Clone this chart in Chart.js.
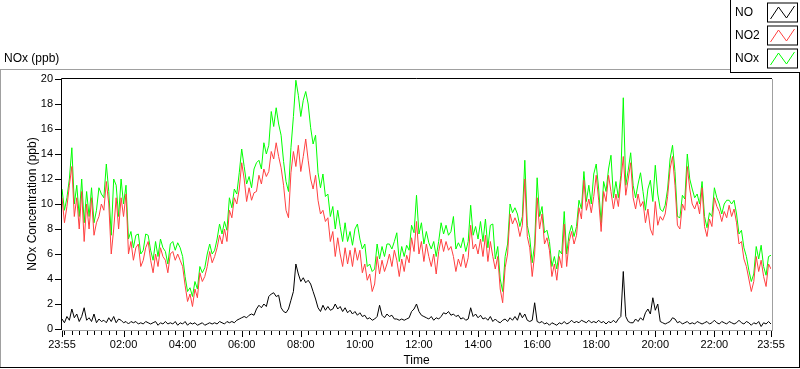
<!DOCTYPE html>
<html>
<head>
<meta charset="utf-8">
<script src="https://cdn.jsdelivr.net/npm/chart.js@4.4.0/dist/chart.umd.min.js"></script>
<style>
html,body{margin:0;padding:0;background:#fff;}
#wrap{position:relative;width:800px;height:369px;}
canvas{display:block;}
</style>
</head>
<body>
<div id="wrap"><canvas id="c" width="800" height="369"></canvas></div>
<script>
// sample spacing: 5 minutes, starting at 23:55 (minute 0) through 23:55 next day (minute 1440)
const sampleStepMin = 5;

const noValues = [
0.8,0.5,1.0,0.7,1.6,0.9,1.2,0.6,1.0,1.7,0.7,0.9,
0.6,1.2,0.5,0.8,0.6,0.7,0.5,0.9,0.6,1.0,0.5,0.8,
0.7,0.5,0.6,0.4,0.6,0.5,0.6,0.4,0.5,0.4,0.6,0.5,
0.4,0.5,0.6,0.3,0.5,0.4,0.6,0.4,0.5,0.4,0.6,0.3,
0.5,0.4,0.6,0.3,0.5,0.4,0.5,0.3,0.4,0.5,0.3,0.4,
0.5,0.4,0.5,0.4,0.6,0.5,0.4,0.6,0.5,0.6,0.5,0.7,
0.8,0.9,1.0,0.9,1.1,1.2,1.1,1.6,1.9,1.7,2.0,1.8,
2.6,2.8,2.9,2.6,2.7,1.7,1.4,1.3,1.6,2.3,3.0,5.2,
4.4,3.8,4.1,3.7,3.9,3.6,3.0,2.4,1.7,1.4,1.9,1.5,
1.8,1.5,1.6,2.0,1.6,1.8,1.4,1.7,1.3,1.5,1.2,1.4,
1.1,1.3,1.0,1.1,0.8,0.9,0.7,0.8,1.0,1.9,1.1,0.9,
1.2,1.0,1.1,0.8,0.8,0.7,0.8,0.7,0.8,0.9,1.4,1.6,
2.0,1.4,1.1,1.0,0.9,0.8,1.0,0.7,0.9,0.8,1.0,1.3,
1.2,1.4,1.1,1.2,1.0,1.1,0.8,0.9,0.7,0.8,1.7,1.0,
1.2,0.9,1.1,0.8,0.9,0.7,1.0,0.6,0.8,0.6,0.5,0.7,
0.8,0.6,0.9,0.7,1.0,0.7,1.3,0.9,1.2,0.7,0.6,0.7,
2.1,0.6,0.5,0.6,0.4,0.5,0.3,0.5,0.4,0.3,0.5,0.4,
0.6,0.4,0.5,0.7,0.5,0.6,0.5,0.7,0.6,0.5,0.7,0.5,
0.6,0.5,0.7,0.5,0.6,0.4,0.6,0.5,0.7,0.5,0.8,1.0,
4.6,1.0,0.6,0.5,0.5,0.8,0.6,0.9,0.7,1.3,1.6,1.2,
2.5,1.5,2.0,0.6,0.5,0.4,0.5,0.6,0.9,0.8,0.5,0.6,
0.4,0.5,0.6,0.4,0.5,0.4,0.6,0.5,0.4,0.5,0.6,0.4,
0.5,0.7,0.5,0.4,0.6,0.5,0.4,0.6,0.5,0.4,0.5,0.7,
0.5,0.4,0.6,0.5,0.3,0.5,0.4,0.6,0.2,0.5,0.4,0.6,
0.4
];

const no2Values = [
10.5,8.5,9.8,11.5,13.0,9.0,10.5,8.0,11.0,7.0,10.0,8.0,
10.5,7.5,8.5,9.0,10.0,9.5,11.8,10.0,6.0,8.0,10.5,8.0,
10.5,9.0,10.8,6.0,7.0,5.5,6.5,6.8,5.0,5.5,6.5,7.0,
5.5,4.5,6.0,5.0,6.5,5.8,5.5,4.5,6.0,6.2,5.5,6.0,
5.5,5.0,3.5,2.2,2.8,1.8,3.2,2.5,4.5,3.8,4.2,5.0,
6.2,5.3,5.8,6.5,7.5,6.8,8.0,7.0,9.5,8.9,10.5,10.0,
11.2,13.3,12.0,10.2,11.3,10.3,10.9,11.0,12.3,11.6,12.8,12.2,
12.6,14.2,13.6,14.9,13.8,12.9,11.5,9.5,8.9,12.5,14.2,13.0,
14.7,12.6,13.8,15.2,13.5,12.0,11.2,12.3,10.3,9.2,9.5,8.6,
8.9,7.0,7.8,5.8,7.3,6.0,5.0,6.5,5.2,6.3,5.0,6.5,
5.5,6.3,4.5,5.2,3.9,4.4,3.0,3.6,5.8,4.4,5.5,4.6,
5.2,6.0,5.0,6.3,5.5,4.2,5.6,4.6,5.9,5.3,7.3,6.2,
8.6,6.0,7.0,5.4,6.8,5.8,5.0,6.0,4.4,6.2,7.2,6.2,
7.0,6.3,6.6,5.8,4.6,5.6,5.0,6.0,4.9,5.7,8.3,6.4,
6.8,6.0,7.2,5.8,7.5,5.4,7.0,5.8,4.8,5.8,3.2,2.1,
4.9,6.0,9.2,8.4,8.9,8.4,7.4,8.3,12.0,7.4,6.5,4.2,
6.0,10.5,8.0,9.2,6.8,7.3,6.3,4.2,5.2,3.9,5.8,4.9,
8.4,5.0,7.0,7.8,6.8,7.5,9.7,8.8,11.9,9.5,10.4,9.3,
10.6,12.3,10.3,7.8,11.0,10.2,12.3,11.0,9.6,10.8,9.8,11.8,
13.8,10.7,12.0,13.3,10.5,9.6,10.8,9.8,10.2,8.5,9.6,8.0,
7.5,10.2,8.3,9.0,8.7,9.2,10.6,12.8,13.8,11.5,8.3,8.0,
10.0,9.5,13.0,11.2,10.0,9.6,10.2,9.2,11.3,8.2,7.4,8.8,
8.2,10.5,9.8,9.4,8.6,9.4,8.9,9.9,9.0,9.6,8.5,6.8,
7.0,5.6,5.0,4.0,3.0,3.8,5.8,4.6,5.5,4.2,3.4,5.2,
4.8
];

const noxValues = [
11.2,9.5,10.5,12.0,14.5,10.0,11.5,9.0,12.0,8.5,11.0,9.0,
11.3,8.5,9.5,11.3,10.8,10.5,13.2,11.0,7.5,12.0,11.5,9.0,
12.0,10.0,11.5,7.2,7.8,6.5,7.5,7.6,6.0,6.3,7.6,7.5,
6.3,5.5,7.0,5.8,7.2,6.5,6.2,5.2,6.8,7.0,6.3,6.9,
6.5,5.8,4.2,3.0,3.3,2.6,3.8,3.2,5.0,4.5,4.9,6.0,
6.8,6.0,6.3,7.2,8.4,7.6,8.6,7.9,10.5,9.7,11.2,10.8,
12.5,14.4,13.0,11.6,12.2,11.3,12.8,13.3,13.5,12.8,14.9,14.0,
14.7,17.4,16.2,17.7,16.4,15.5,13.4,11.8,11.0,14.5,17.0,19.9,
18.7,17.0,18.3,19.0,18.0,16.1,14.8,15.5,12.5,11.3,12.4,10.6,
10.8,9.0,9.8,8.0,9.5,8.2,7.0,8.5,7.0,7.8,6.7,8.0,
8.4,7.2,6.4,6.8,5.0,5.2,4.6,4.8,6.8,5.6,6.6,5.8,
6.8,6.8,6.4,7.0,7.7,5.4,6.6,5.8,6.7,6.3,8.3,7.7,
10.7,7.6,8.5,6.8,7.8,6.9,6.4,7.0,5.8,7.0,8.5,7.6,
8.3,7.5,7.8,9.0,6.4,6.9,6.5,7.3,6.2,7.0,9.9,7.5,
8.2,7.2,8.6,7.0,8.8,6.5,8.3,8.4,5.6,6.6,4.0,3.0,
5.8,6.8,10.0,9.3,9.7,9.2,8.2,9.0,13.5,8.3,7.3,5.3,
6.8,12.1,9.0,9.8,7.7,7.9,7.0,5.0,5.8,4.8,6.3,6.0,
9.4,6.0,7.6,8.3,7.4,8.2,10.3,9.6,12.6,10.2,11.5,10.0,
12.4,13.2,11.2,8.5,11.8,11.0,12.8,13.9,10.5,11.8,10.5,12.3,
18.5,11.5,12.7,14.1,11.5,10.5,11.6,12.5,11.0,9.5,11.2,11.9,
10.2,13.1,10.8,9.6,9.4,9.9,11.2,13.6,14.7,12.6,9.0,8.9,
10.7,10.4,14.0,12.0,11.2,10.5,10.8,10.0,11.8,9.0,8.1,9.3,
9.0,11.3,10.5,10.0,9.2,10.0,10.3,10.3,10.0,10.3,9.2,7.6,
7.9,6.5,5.8,4.7,3.8,4.4,6.6,5.6,6.7,5.0,4.3,5.8,
5.9
];

// x-axis labelled ticks (minutes after 23:55)
const tickValues = [0,125,245,365,485,605,725,845,965,1085,1205,1325,1440];
const tickLabels = ['23:55','02:00','04:00','06:00','08:00','10:00','12:00','14:00','16:00','18:00','20:00','22:00','23:55'];
const yTicks = [0,2,4,6,8,10,12,14,16,18,20];

const seriesNames = ['NO','NO2','NOx'];
const seriesColors = ['#000000','#ff4040','#00ff00'];

const sampleMinutes = noValues.map((_, i) => i * sampleStepMin);

const FONT = '"Liberation Sans", Arial, sans-serif';

const framePlugin = {
  id: 'frame',
  afterDraw(chart) {
    const ctx = chart.ctx;
    const a = chart.chartArea;
    const xs = chart.scales.x;
    ctx.save();
    ctx.lineWidth = 1;
    // plot area frame
    ctx.strokeStyle = '#000';
    ctx.beginPath();
    ctx.moveTo(a.left - 0.5, a.top - 0.5); ctx.lineTo(a.right + 1, a.top - 0.5);
    ctx.moveTo(a.left - 0.5, a.top - 0.5); ctx.lineTo(a.left - 0.5, a.bottom + 1);
    ctx.stroke();
    ctx.strokeStyle = '#a0a0a0';
    ctx.beginPath();
    ctx.moveTo(a.right + 1.5, a.top); ctx.lineTo(a.right + 1.5, a.bottom + 2);
    ctx.moveTo(a.left, a.bottom + 1.5); ctx.lineTo(a.right + 2, a.bottom + 1.5);
    ctx.stroke();
    // ticks on x axis
    ctx.strokeStyle = '#000';
    ctx.beginPath();
    for (let m = 5; m < 1440; m += 15) {
      const px = Math.round(xs.getPixelForValue(m)) + 0.5;
      ctx.moveTo(px, a.bottom + 2); ctx.lineTo(px, a.bottom + 6);
    }
    tickValues.forEach(v => {
      const px = Math.round(xs.getPixelForValue(v)) + 0.5;
      ctx.moveTo(px, a.bottom + 2); ctx.lineTo(px, a.bottom + 8);
    });
    ctx.stroke();
    // y ticks
    const ys = chart.scales.y;
    ctx.beginPath();
    yTicks.forEach(v => {
      const py = Math.round(ys.getPixelForValue(v)) + 0.5;
      ctx.moveTo(a.left - 7, py); ctx.lineTo(a.left - 1, py);
    });
    ctx.stroke();
    // outer frame
    ctx.strokeStyle = '#a0a0a0';
    ctx.beginPath();
    ctx.moveTo(0, 69.5); ctx.lineTo(730, 69.5);
    ctx.moveTo(0.5, 69); ctx.lineTo(0.5, 368);
    ctx.stroke();
    ctx.strokeStyle = '#000';
    ctx.beginPath();
    ctx.moveTo(0, 367.5); ctx.lineTo(800, 367.5);
    ctx.moveTo(799.5, 72); ctx.lineTo(799.5, 368);
    ctx.moveTo(730.5, 0); ctx.lineTo(730.5, 72.5);
    ctx.moveTo(730, 72.5); ctx.lineTo(800, 72.5);
    ctx.stroke();
    // graph caption
    ctx.fillStyle = '#000';
    ctx.font = '12px ' + FONT;
    ctx.textBaseline = 'middle';
    ctx.textAlign = 'left';
    ctx.fillText('NOx (ppb)', 4, 59);
    // legend
    const rows = [12.5, 35.5, 58.5];
    seriesNames.forEach((name, i) => {
      const cy = rows[i];
      ctx.fillStyle = '#000';
      ctx.fillText(name, 735, cy);
      const bx = 767.5, by = cy - 9.5, bw = 30, bh = 19;
      ctx.strokeStyle = '#000';
      ctx.strokeRect(bx, by, bw, bh);
      ctx.strokeStyle = seriesColors[i];
      ctx.beginPath();
      ctx.moveTo(bx + 3, by + 16);
      ctx.lineTo(bx + 11, by + 4);
      ctx.lineTo(bx + 19, by + 15);
      ctx.lineTo(bx + 27, by + 3);
      ctx.stroke();
    });
    ctx.restore();
  }
};

new Chart(document.getElementById('c'), {
  type: 'line',
  data: {
    labels: sampleMinutes,
    datasets: [
      { label: seriesNames[0], data: noValues, borderColor: seriesColors[0], borderWidth: 1, pointRadius: 0, tension: 0 },
      { label: seriesNames[1], data: no2Values, borderColor: seriesColors[1], borderWidth: 1, pointRadius: 0, tension: 0 },
      { label: seriesNames[2], data: noxValues, borderColor: seriesColors[2], borderWidth: 1, pointRadius: 0, tension: 0 }
    ]
  },
  options: {
    responsive: false,
    animation: false,
    devicePixelRatio: 1,
    layout: { padding: { left: 0, right: 29, top: 79, bottom: 0 } },
    plugins: { legend: { display: false }, tooltip: { enabled: false }, title: { display: false } },
    scales: {
      x: {
        type: 'linear', min: 0, max: 1440,
        afterBuildTicks: (s) => { s.ticks = tickValues.map(v => ({ value: v })); },
        afterFit: (s) => { s.height = 40; },
        grid: { display: false, drawOnChartArea: false, drawTicks: false, tickLength: 0 },
        border: { display: false },
        ticks: {
          autoSkip: false, maxRotation: 0, minRotation: 0, padding: 9, color: '#000',
          font: { family: FONT, size: 11 },
          callback: (v) => { const k = tickValues.indexOf(v); return k >= 0 ? tickLabels[k] : ''; }
        },
        title: { display: true, text: 'Time', color: '#000', font: { family: FONT, size: 12 }, padding: { top: 0, bottom: 1 } }
      },
      y: {
        min: 0, max: 20,
        afterBuildTicks: (s) => { s.ticks = yTicks.map(v => ({ value: v })); },
        afterFit: (s) => { s.width = 62; },
        grid: { display: false, drawOnChartArea: false, drawTicks: false, tickLength: 0 },
        border: { display: false },
        ticks: { padding: 9, color: '#000', font: { family: FONT, size: 11 } },
        title: { display: true, text: 'NOx Concentration (ppb)', color: '#000', font: { family: FONT, size: 12 }, padding: { top: 25, bottom: 0 } }
      }
    }
  },
  plugins: [framePlugin]
});
</script>
</body>
</html>
